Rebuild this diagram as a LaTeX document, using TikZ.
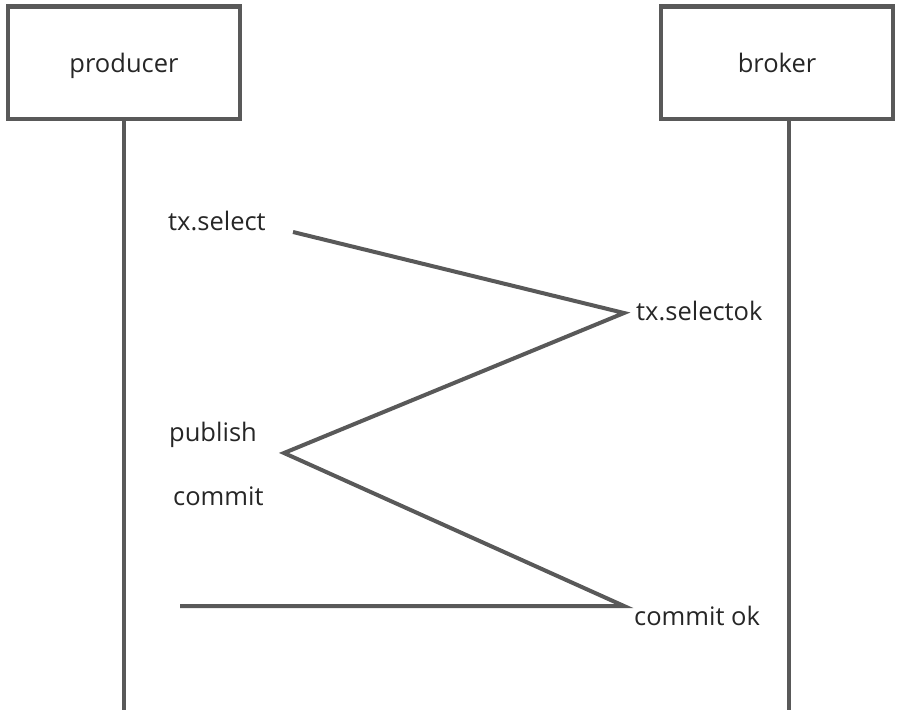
\documentclass[tikz,border=0pt]{standalone}
\usepackage{fontspec}
\setmainfont{Open Sans}
\usetikzlibrary{positioning}
\definecolor{linegray}{HTML}{595959}
\definecolor{textgray}{HTML}{262626}
\tikzset{
	actor/.style={draw=linegray,line width=4.5pt,minimum width=232pt,minimum height=112.5pt,text depth=0pt,text=textgray,font=\fontsize{25.5}{30}\selectfont},
	msg/.style={text=textgray,font=\fontsize{25.5}{30}\selectfont,inner sep=0pt,text depth=0pt,anchor=west},
	life/.style={draw=linegray,line width=4.5pt},
	flow/.style={draw=linegray,line width=4pt,line join=miter}
}
\begin{document}
\begin{tikzpicture}[x=1pt,y=-1pt]
\useasboundingbox (0,0) rectangle (905,715);
% the two parties
\node[actor] (producer) at (124,62.5) {producer};
\node[actor] (broker) at (777,62.5) {broker};
% lifelines
\coordinate (pBot) at (124,710);
\coordinate (bTop) at (789,120);
\coordinate (bBot) at (789,710);
\draw[life] (producer.south) -- (pBot);
\draw[life] (bTop) -- (bBot);
% labels
\node[msg] (select) at (168,221) {tx.select};
\node[msg] (selectok) at (636,311) {tx.selectok};
\node[msg] (publish) at (169,432) {publish};
\node[msg] (commit) at (173,496) {commit};
\node[msg] (commitok) at (634,616) {commit ok};
% message path
\coordinate (s0) at (293,232);
\coordinate (s1) at (624,313);
\coordinate (s2) at (284,453);
\coordinate (s3) at (624,606);
\coordinate (s4) at (180,606);
\draw[flow] (s0) -- (s1) -- (s2) -- (s3) -- (s4);
\end{tikzpicture}
\end{document}
